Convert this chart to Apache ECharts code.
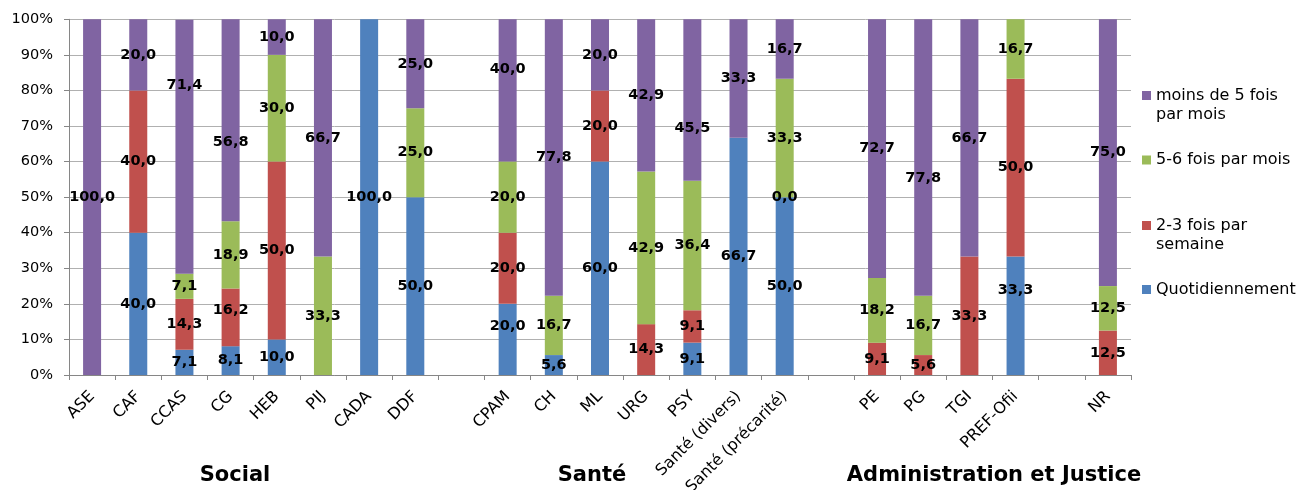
<!DOCTYPE html>
<html>
<head>
<meta charset="utf-8">
<script src="https://cdn.jsdelivr.net/npm/echarts@6/dist/echarts.min.js"></script>
<style>
  html, body { margin: 0; padding: 0; background: #fff; }
  #chart { width: 1297px; height: 490px; }
</style>
</head>
<body>
<div id="chart"></div>
<script>
// Organismes, grouped Social / Santé / Administration et Justice (blank slots separate the groups)
const categories = ['ASE', 'CAF', 'CCAS', 'CG', 'HEB', 'PIJ', 'CADA', 'DDF', '',
  'CPAM', 'CH', 'ML', 'URG', 'PSY', 'Santé (divers)', 'Santé (précarité)', '',
  'PE', 'PG', 'TGI', 'PREF-Ofii', '', 'NR'];

// Share of contacts (%) by frequency
const quotidiennement = [null, 40, 7.1, 8.1, 10, null, 100, 50, null,
  20, 5.6, 60, null, 9.1, 66.7, 50, null,
  null, null, null, 33.3, null, null];
const deuxTroisParSemaine = [null, 40, 14.3, 16.2, 50, null, null, null, null,
  20, null, 20, 14.3, 9.1, null, 0, null,
  9.1, 5.6, 33.3, 50, null, 12.5];
const cinqSixParMois = [null, null, 7.1, 18.9, 30, 33.3, null, 25, null,
  20, 16.7, null, 42.9, 36.4, null, 33.3, null,
  18.2, 16.7, null, 16.7, null, 12.5];
const moinsDeCinqParMois = [100, 20, 71.4, 56.8, 10, 66.7, null, 25, null,
  40, 77.8, 20, 42.9, 45.5, 33.3, 16.7, null,
  72.7, 77.8, 66.7, null, null, 75];

const seriesNames = ['Quotidiennement', '2-3 fois par semaine', '5-6 fois par mois', 'moins de 5 fois par mois'];
const yTicks = [0, 10, 20, 30, 40, 50, 60, 70, 80, 90, 100];
const groupTitles = ['Social', 'Santé', 'Administration et Justice'];

// Layout / styling
const FONT = 'DejaVu Sans';
const colors = ['#4F81BD', '#C0504D', '#9BBB59', '#8064A2'];
// vertical shifts (px) of a few value labels moved off their segment centre
const labelShift = [
  { 'CPAM': -13, 'PREF-Ofii': -26 },
  { 'CG': -7 },
  {},
  { 'CCAS': -61, 'CG': 22, 'CPAM': -21, 'PSY': 28, 'PG': 21 }
];

const fmt = v => v.toFixed(1).replace('.', ',');

function buildData(values, shifts) {
  return values.map((v, i) => {
    const dy = shifts[categories[i]];
    if (v === null || dy === undefined) return v;
    return { value: v, label: { offset: [0, dy] } };
  });
}

const valueSets = [quotidiennement, deuxTroisParSemaine, cinqSixParMois, moinsDeCinqParMois];

const series = valueSets.map((vals, k) => ({
  name: seriesNames[k],
  type: 'bar',
  stack: 'total',
  barWidth: '39%',
  data: buildData(vals, labelShift[k]),
  itemStyle: { color: colors[k] },
  label: {
    show: true,
    position: 'inside',
    fontFamily: FONT,
    fontSize: 14.5,
    fontWeight: 'bold',
    color: '#000',
    formatter: p => fmt(p.value)
  },
  emphasis: { disabled: true }
}));

// Legend: one block per series, top item first; two-line entries keep the square on the first line
const twoLineIcon = 'path://M0,0H9V9H0Z M0,28H0.001V28.001H0Z';
const legendRows = [
  { name: 'moins de 5 fois par mois', text: 'moins de 5 fois\npar mois', top: 86, twoLine: true },
  { name: '5-6 fois par mois', text: '5-6 fois par mois', top: 150.5, twoLine: false },
  { name: '2-3 fois par semaine', text: '2-3 fois par\nsemaine', top: 216, twoLine: true },
  { name: 'Quotidiennement', text: 'Quotidiennement', top: 280, twoLine: false }
];
const legends = legendRows.map(r => ({
  data: [r.name],
  left: 1142,
  top: r.top,
  orient: 'vertical',
  padding: 0,
  itemWidth: 9,
  itemHeight: r.twoLine ? 28 : 9,
  icon: r.twoLine ? twoLineIcon : 'rect',
  selectedMode: false,
  formatter: () => r.text,
  textStyle: { fontFamily: FONT, fontSize: 16, lineHeight: 19, color: '#000' }
}));

const titlePos = [{ left: 235 }, { left: 592 }, { left: 994 }];
const titles = groupTitles.map((t, i) => ({
  text: t,
  left: titlePos[i].left,
  top: 465,
  textAlign: 'center',
  padding: 0,
  textStyle: { fontFamily: FONT, fontSize: 21, fontWeight: 'bold', color: '#000' }
}));

const chart = echarts.init(document.getElementById('chart'), null, { renderer: 'canvas' });
chart.setOption({
  animation: false,
  backgroundColor: '#fff',
  title: titles,
  legend: legends,
  grid: { left: 69, right: 166, top: 19.3, bottom: 115, containLabel: false, outerBoundsMode: 'none' },
  xAxis: {
    type: 'category',
    data: categories,
    axisLine: { lineStyle: { color: '#868686', width: 1 } },
    axisTick: { show: true, length: 5, lineStyle: { color: '#868686' } },
    axisLabel: {
      interval: 0,
      rotate: 45,
      margin: 19,
      fontFamily: FONT,
      fontSize: 16,
      color: '#000'
    }
  },
  yAxis: {
    type: 'value',
    min: yTicks[0],
    max: yTicks[yTicks.length - 1],
    interval: yTicks[1] - yTicks[0],
    axisLine: { show: true, lineStyle: { color: '#868686', width: 1 } },
    axisTick: { show: true, length: 5, lineStyle: { color: '#868686' } },
    axisLabel: {
      margin: 16,
      fontFamily: FONT,
      fontSize: 14.5,
      color: '#000',
      formatter: v => v + '%'
    },
    splitLine: { show: true, lineStyle: { color: '#b0b0b0', width: 1 } }
  },
  series: series
});
</script>
</body>
</html>
